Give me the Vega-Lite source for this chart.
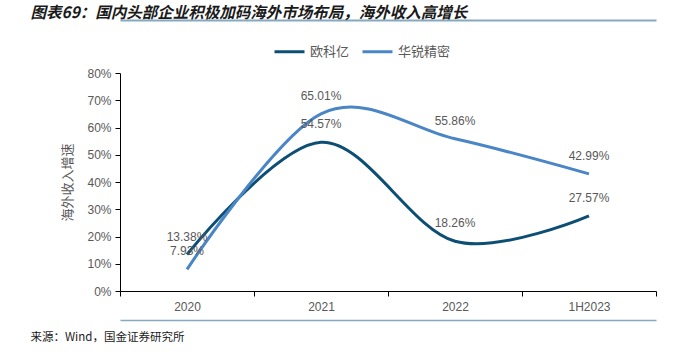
{
  "$schema": "https://vega.github.io/schema/vega-lite/v6.json",
  "width": 536,
  "height": 218,
  "autosize": {"type": "none"},
  "padding": {"left": 120, "top": 73, "right": 37, "bottom": 65},
  "background": "white",
  "config": {
    "view": {"stroke": null},
    "axis": {
      "labelFont": "Liberation Sans",
      "labelFontSize": 12,
      "labelColor": "#595959",
      "domainColor": "#000000",
      "tickColor": "#000000",
      "grid": false
    }
  },
  "data": {
    "values": [
      {"period": "2020", "company": "欧科亿", "value": 0.1338},
      {"period": "2021", "company": "欧科亿", "value": 0.5457},
      {"period": "2022", "company": "欧科亿", "value": 0.1826},
      {"period": "1H2023", "company": "欧科亿", "value": 0.2757},
      {"period": "2020", "company": "华锐精密", "value": 0.0793},
      {"period": "2021", "company": "华锐精密", "value": 0.6501},
      {"period": "2022", "company": "华锐精密", "value": 0.5586},
      {"period": "1H2023", "company": "华锐精密", "value": 0.4299}
    ]
  },
  "encoding": {
    "y": {
      "field": "value",
      "type": "quantitative",
      "scale": {"domain": [0, 0.8]},
      "axis": {
        "values": [0, 0.1, 0.2, 0.3, 0.4, 0.5, 0.6, 0.7, 0.8],
        "format": ".0%",
        "labelOverlap": false,
        "tickSize": 5,
        "labelPadding": 4,
        "title": "海外收入增速",
        "titleFont": "Noto Sans CJK SC",
        "titleFontSize": 13,
        "titleFontWeight": "normal",
        "titleColor": "#595959",
        "titlePadding": 12
      }
    }
  },
  "layer": [
    {
      "mark": {"type": "line", "interpolate": "cardinal", "strokeWidth": 3},
      "encoding": {
        "x": {
          "field": "period",
          "type": "ordinal",
          "sort": ["2020", "2021", "2022", "1H2023"],
          "scale": {"type": "band", "paddingInner": 0, "paddingOuter": 0},
          "bandPosition": 0.5,
          "axis": {
            "labelAngle": 0,
            "tickBand": "extent",
            "tickSize": 5,
            "labelPadding": 5,
            "title": null
          }
        },
        "color": {
          "field": "company",
          "type": "nominal",
          "scale": {"domain": ["欧科亿", "华锐精密"], "range": ["#0d4f74", "#4a86c6"]},
          "legend": {
            "title": null,
            "orient": "none",
            "direction": "horizontal",
            "legendX": 153,
            "legendY": -38,
            "symbolType": "stroke",
            "symbolSize": 900,
            "symbolStrokeWidth": 3,
            "labelFont": "Noto Sans CJK SC",
            "labelFontSize": 13,
            "labelColor": "#595959",
            "columnPadding": 6
          }
        }
      }
    },
    {
      "transform": [{"filter": "datum.company === '欧科亿'"}],
      "mark": {"type": "text", "dy": -18, "font": "Liberation Sans", "fontSize": 12, "color": "#595959"},
      "encoding": {
        "x": {
          "field": "period",
          "type": "ordinal",
          "sort": ["2020", "2021", "2022", "1H2023"],
          "scale": {"type": "band", "paddingInner": 0, "paddingOuter": 0},
          "bandPosition": 0.5,
          "axis": {
            "orient": "top",
            "labels": false,
            "ticks": false,
            "domainColor": "#85a9c2",
            "domainWidth": 2,
            "offset": 53,
            "title": "图表69：国内头部企业积极加码海外市场布局，海外收入高增长",
            "titleFont": "Noto Sans CJK SC",
            "titleFontSize": 15.5,
            "titleFontWeight": "bold",
            "titleFontStyle": "italic",
            "titleColor": "#1a1a1a",
            "titleAnchor": "start",
            "titleAlign": "left",
            "titleBaseline": "middle",
            "titleX": -90,
            "titleY": -8
          }
        },
        "text": {"field": "value", "type": "quantitative", "format": ".2%"}
      }
    },
    {
      "transform": [{"filter": "datum.company === '华锐精密'"}],
      "mark": {"type": "text", "dy": -18, "font": "Liberation Sans", "fontSize": 12, "color": "#595959"},
      "encoding": {
        "x": {
          "field": "period",
          "type": "ordinal",
          "sort": ["2020", "2021", "2022", "1H2023"],
          "scale": {"type": "band", "paddingInner": 0, "paddingOuter": 0},
          "bandPosition": 0.5,
          "axis": {
            "orient": "bottom",
            "labels": false,
            "ticks": false,
            "domainColor": "#85a9c2",
            "domainWidth": 1.5,
            "offset": 29,
            "title": "来源：Wind，国金证券研究所",
            "titleFont": "Noto Sans CJK SC",
            "titleFontSize": 11.5,
            "titleFontWeight": "normal",
            "titleColor": "#1a1a1a",
            "titleAnchor": "start",
            "titleAlign": "left",
            "titleBaseline": "middle",
            "titleX": -90,
            "titleY": 17
          }
        },
        "text": {"field": "value", "type": "quantitative", "format": ".2%"}
      }
    }
  ],
  "resolve": {"axis": {"x": "independent"}}
}
